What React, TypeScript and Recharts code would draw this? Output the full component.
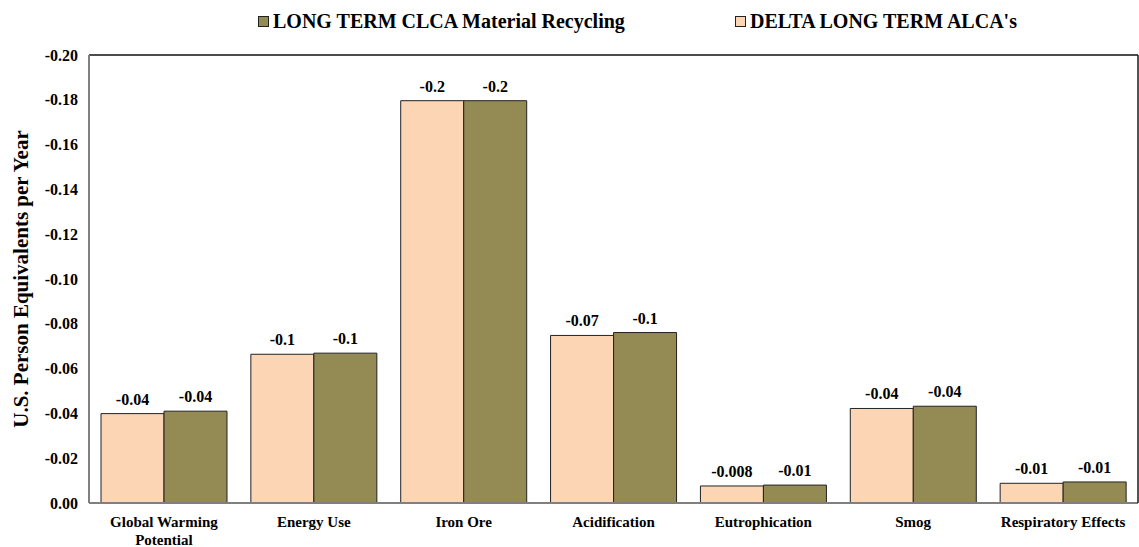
import React from 'react';
import {
  BarChart,
  Bar,
  XAxis,
  YAxis,
  Legend,
  LabelList,
  ReferenceLine,
} from 'recharts';

const CATEGORIES = [
  'Global Warming Potential',
  'Energy Use',
  'Iron Ore',
  'Acidification',
  'Eutrophication',
  'Smog',
  'Respiratory Effects',
];
const ALCA_VALUES = [-0.0399, -0.0664, -0.1796, -0.0748, -0.0076, -0.0422, -0.0088];
const CLCA_VALUES = [-0.041, -0.0669, -0.1796, -0.0761, -0.008, -0.0432, -0.0094];
const ALCA_LABELS = ['-0.04', '-0.1', '-0.2', '-0.07', '-0.008', '-0.04', '-0.01'];
const CLCA_LABELS = ['-0.04', '-0.1', '-0.2', '-0.1', '-0.01', '-0.04', '-0.01'];
const Y_TICKS = [-0.2, -0.18, -0.16, -0.14, -0.12, -0.1, -0.08, -0.06, -0.04, -0.02, 0];
const BOUNDARY_TICKS = [1, 2, 3, 4, 5, 6];

const PEACH = '#FCD5B5';
const OLIVE = '#948A54';
const FONT = "'Liberation Serif', 'Times New Roman', Tinos, 'DejaVu Serif', serif";

const data = CATEGORIES.map((name, i) => ({
  name,
  alca: ALCA_VALUES[i],
  clca: CLCA_VALUES[i],
  alcaLabel: ALCA_LABELS[i],
  clcaLabel: CLCA_LABELS[i],
}));

const LEGEND_ITEMS = [
  { label: 'LONG TERM CLCA Material Recycling', color: OLIVE, left: 258 },
  { label: "DELTA LONG TERM ALCA's", color: PEACH, left: 735 },
];

function LegendContent() {
  return (
    <div style={{ position: 'relative', width: 1139, height: 40, fontFamily: FONT }}>
      {LEGEND_ITEMS.map((it) => (
        <div key={it.label} style={{ position: 'absolute', left: it.left, top: 11, display: 'flex', alignItems: 'center' }}>
          <span style={{ width: 9, height: 9, background: it.color, border: '1px solid #222', marginRight: 4 }} />
          <span style={{ fontFamily: FONT, fontSize: 20, fontWeight: 700, lineHeight: '20px', color: '#000', whiteSpace: 'nowrap' }}>{it.label}</span>
        </div>
      ))}
    </div>
  );
}

function CategoryTick(props: any) {
  const { x, y, payload } = props;
  const text: string = payload.value;
  let lines = [text];
  if (text.length > 20) {
    const cut = text.lastIndexOf(' ');
    lines = [text.slice(0, cut), text.slice(cut + 1)];
  }
  return (
    <text x={x} y={y + 24} textAnchor="middle" style={{ fontFamily: FONT }} fontWeight={700} fontSize={15} fill="#000">
      {lines.map((l, i) => (
        <tspan key={i} x={x} dy={i === 0 ? 0 : 17.5}>{l}</tspan>
      ))}
    </text>
  );
}

function BarValueLabel(props: any) {
  const { x, y, width, height, value } = props;
  const top = Math.min(y, y + height);
  return (
    <text x={x + width / 2} y={top - 9} textAnchor="middle" style={{ fontFamily: FONT }} fontWeight={700} fontSize={16} fill="#000">
      {value}
    </text>
  );
}

function YTitle(props: any) {
  const { viewBox } = props;
  const cy = viewBox.y + viewBox.height / 2;
  const x = 28;
  return (
    <text x={x} y={cy} transform={`rotate(-90 ${x} ${cy})`} textAnchor="middle" style={{ fontFamily: FONT }} fontWeight={700} fontSize={21} fill="#000">
      U.S. Person Equivalents per Year
    </text>
  );
}

export default function App() {
  return (
    <div style={{ position: 'absolute', left: 0, top: 0, fontFamily: FONT }}>
      <BarChart
        width={1139}
        height={547}
        data={data}
        margin={{ top: 15, right: 0, left: 0, bottom: 0 }}
        barCategoryGap={12}
        barGap={0}
        style={{ fontFamily: FONT }}
      >
        <Legend
          verticalAlign="top"
          content={<LegendContent />}
          wrapperStyle={{ top: 0, left: 0, width: 1139, height: 40 }}
        />
        <XAxis
          xAxisId="bnd"
          type="number"
          domain={[0, 7]}
          ticks={BOUNDARY_TICKS}
          mirror
          height={0}
          tickSize={5}
          axisLine={false}
          tickLine={{ stroke: '#a0a0a0', strokeWidth: 1.5 }}
          tick={() => <g />}
        />
        <XAxis
          dataKey="name"
          interval={0}
          height={44}
          tickSize={0}
          tickMargin={0}
          tickLine={false}
          axisLine={{ stroke: '#808080', strokeWidth: 2 }}
          tick={<CategoryTick />}
        />
        <YAxis
          type="number"
          domain={[-0.2, 0]}
          reversed
          ticks={Y_TICKS}
          interval={0}
          width={89}
          tickLine={false}
          tickSize={6}
          tickMargin={5}
          axisLine={{ stroke: '#808080', strokeWidth: 2 }}
          tick={{ style: { fontFamily: FONT }, fontWeight: 700, fontSize: 16, fill: '#000' }}
          tickFormatter={(v: number) => (Math.abs(v) < 1e-9 ? '0.00' : v.toFixed(2))}
          label={<YTitle />}
        />
        <YAxis
          yAxisId="right"
          orientation="right"
          type="number"
          domain={[-0.2, 0]}
          reversed
          width={1}
          tick={false}
          tickLine={false}
          axisLine={{ stroke: '#1a1a1a', strokeWidth: 1.5 }}
        />
        <ReferenceLine y={-0.2} stroke="#111" strokeWidth={1.5} />
        <Bar dataKey="alca" name="DELTA LONG TERM ALCA's" fill={PEACH} stroke="#222" strokeWidth={1} isAnimationActive={false}>
          <LabelList dataKey="alcaLabel" content={<BarValueLabel />} />
        </Bar>
        <Bar dataKey="clca" name="LONG TERM CLCA Material Recycling" fill={OLIVE} stroke="#222" strokeWidth={1} isAnimationActive={false}>
          <LabelList dataKey="clcaLabel" content={<BarValueLabel />} />
        </Bar>
      </BarChart>
    </div>
  );
}
